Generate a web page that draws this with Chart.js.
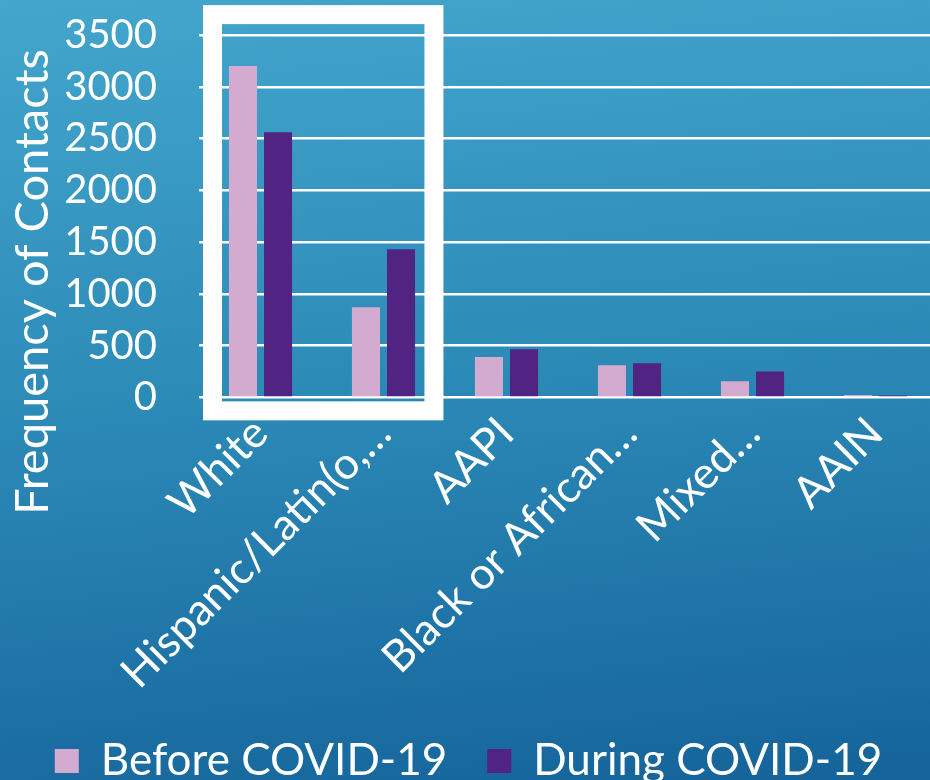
<!DOCTYPE html>
<html>
<head>
<meta charset="utf-8">
<script src="https://cdn.jsdelivr.net/npm/chart.js@4/dist/chart.umd.min.js"></script>
<style>
  html, body { margin: 0; padding: 0; width: 930px; height: 780px; overflow: hidden; }
  body { background: linear-gradient(174deg, #43a6cc 0%, #2c8ab7 48%, #14639a 100%); }
  canvas { display: block; }
</style>
</head>
<body>
<canvas id="contacts" width="937" height="780" style="width:937px;height:780px"></canvas>
<script>
const categories = ['White', 'Hispanic/Latin(o,\u2026', 'AAPI', 'Black or African\u2026', 'Mixed\u2026', 'AAIN'];
const beforeCovid = [3200, 870, 390, 310, 155, 22];
const duringCovid = [2560, 1430, 465, 330, 250, 18];
const yTicks = [0, 500, 1000, 1500, 2000, 2500, 3000, 3500];
const yTitle = 'Frequency of Contacts';

const FONT = 'Lato, "DejaVu Sans", sans-serif';

// white frame round the first two categories + the y title
const extras = {
  id: 'extras',
  afterDraw(chart) {
    const ctx = chart.ctx;
    const x = chart.scales.x, y = chart.scales.y;
    ctx.save();
    ctx.strokeStyle = '#ffffff';
    ctx.lineWidth = 19;
    const l = x.getPixelForValue(-0.39), r = x.getPixelForValue(1.41);
    const t = y.getPixelForValue(3697), b = y.getPixelForValue(-130);
    ctx.strokeRect(l, t, r - l, b - t);

    ctx.translate(33, 282);
    ctx.rotate(-Math.PI / 2);
    ctx.fillStyle = '#ffffff';
    ctx.font = '47px ' + FONT;
    ctx.textAlign = 'center';
    ctx.textBaseline = 'middle';
    ctx.fillText(yTitle, 0, 0);
    ctx.restore();
  }
};

new Chart('contacts', {
  type: 'bar',
  data: {
    labels: categories,
    datasets: [
      { label: 'Before COVID-19', data: beforeCovid, backgroundColor: '#d3abd0' },
      { label: 'During COVID-19', data: duringCovid, backgroundColor: '#512383' }
    ]
  },
  options: {
    responsive: false,
    animation: false,
    categoryPercentage: 0.57,
    barPercentage: 0.8,
    layout: { padding: { top: 35, left: 0, right: 0, bottom: -13 } },
    scales: {
      x: {
        afterFit(scale) { scale.height -= 2; },
        grid: { display: false },
        border: { display: false },
        ticks: {
          color: '#ffffff',
          font: { family: FONT, size: 44 },
          minRotation: 45, maxRotation: 45,
          autoSkip: false,
          padding: 2
        }
      },
      y: {
        min: 0, max: 3500,
        afterFit(scale) {
          scale.width = 199;
          scale.paddingTop = 0;
          scale.paddingBottom = 0;
        },
        afterBuildTicks(scale) { scale.ticks = yTicks.map(v => ({ value: v })); },
        grid: { color: '#ffffff', lineWidth: 2.5, drawTicks: false },
        border: { display: false },
        ticks: {
          color: '#ffffff',
          font: { family: FONT, size: 40 },
          autoSkip: false,
          padding: 42,
          callback: v => String(v)
        }
      }
    },
    plugins: {
      legend: {
        position: 'bottom',
        labels: {
          color: '#ffffff',
          font: { family: FONT, size: 44 },
          boxWidth: 24, boxHeight: 24,
          padding: 40
        }
      },
      tooltip: { enabled: false }
    }
  },
  plugins: [extras]
});
</script>
</body>
</html>
